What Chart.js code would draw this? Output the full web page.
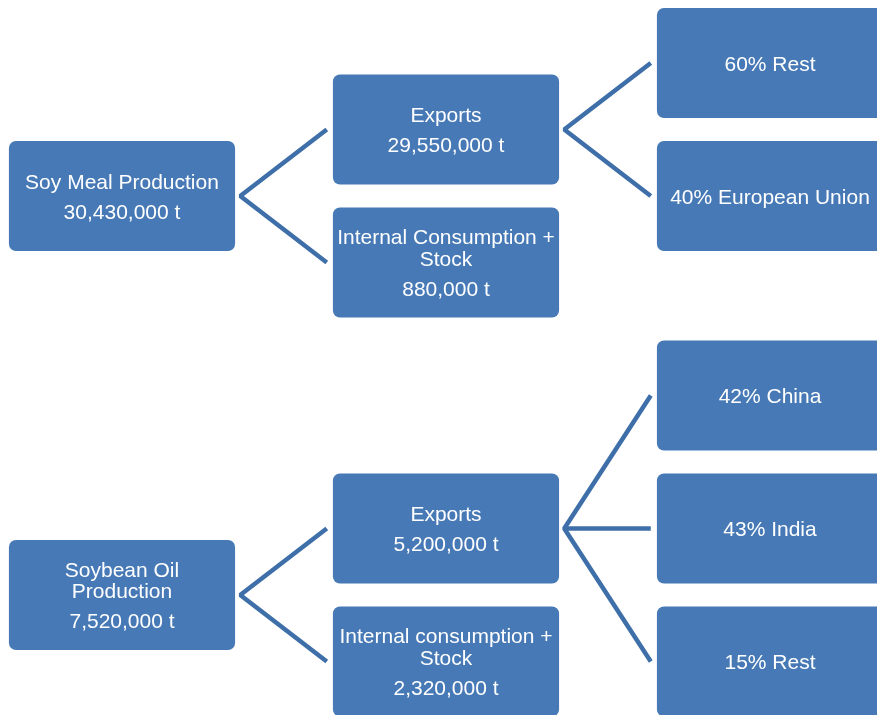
<!DOCTYPE html>
<html>
<head>
<meta charset="utf-8">
<script src="https://cdn.jsdelivr.net/npm/chart.js@4.4.1/dist/chart.umd.min.js"></script>
<style>
  html, body { margin: 0; padding: 0; background: #ffffff; }
  #wrap { width: 877px; height: 715px; position: relative; }
</style>
</head>
<body>
<div id="wrap"><canvas id="flow"></canvas></div>
<script>
// Soy product flows (tonnes) and export destination shares (%)
const products = ['Soy Meal Production', 'Soybean Oil Production'];
const productTonnes = [30430000, 7520000];

const mealUses = ['Exports', 'Internal Consumption + Stock'];
const mealUseTonnes = [29550000, 880000];
const oilUses = ['Exports', 'Internal consumption + Stock'];
const oilUseTonnes = [5200000, 2320000];

const mealExportDestinations = ['Rest', 'European Union'];
const mealExportShares = [60, 40];
const oilExportDestinations = ['China', 'India', 'Rest'];
const oilExportShares = [42, 43, 15];

const tonnes = v => v.toLocaleString('en-US') + ' t';
const share = (p, name) => p + '% ' + name;

// Each tree: product -> [exports -> destinations, internal use]
function buildTree(i, uses, useTonnes, dests, shares) {
  return {
    name: products[i], value: tonnes(productTonnes[i]),
    children: [
      { name: uses[0], value: tonnes(useTonnes[0]),
        children: dests.map((d, k) => ({ name: share(shares[k], d), children: [] })) },
      { name: uses[1], value: tonnes(useTonnes[1]), children: [] }
    ]
  };
}
const trees = [
  buildTree(0, mealUses, mealUseTonnes, mealExportDestinations, mealExportShares),
  buildTree(1, oilUses, oilUseTonnes, oilExportDestinations, oilExportShares)
];

// Layout: x = tree depth (column), y = row slot; siblings one slot apart,
// centred on their parent; trees stacked with one empty slot between them.
function place(node, depth, slot, out) {
  node.depth = depth; node.slot = slot; out.push(node);
  const n = node.children.length;
  node.children.forEach((c, k) => place(c, depth + 1, slot + k - (n - 1) / 2, out));
}
const nodes = [];
let nextTop = 0;
trees.forEach(t => {
  const sub = [];
  place(t, 0, 0, sub);
  const top = Math.min(...sub.map(n => n.slot));
  const bottom = Math.max(...sub.map(n => n.slot));
  const shift = nextTop - top;
  sub.forEach(n => { n.slot += shift; });
  nextTop = bottom + shift + 1;
  nodes.push(...sub);
});

const BOX_HALF = 0.349;   // half box width, in columns
const GAP_OUT = 0.016;    // connector gap at the parent side
const GAP_IN = 0.019;     // connector gap at the child side

const boxData = nodes.map(n => ({ x: [n.depth - BOX_HALF, n.depth + BOX_HALF], y: n.slot }));

const LINK_COLOR = '#3e6fa9';
const linkSets = [];
nodes.forEach(n => {
  if (!n.children.length) return;
  const apex = { x: n.depth + BOX_HALF + GAP_OUT, y: n.slot };
  const ends = n.children.map(c => ({ x: c.depth - BOX_HALF - GAP_IN, y: c.slot }));
  const line = pts => ({
    type: 'scatter', data: pts, showLine: true, pointRadius: 0, pointHoverRadius: 0,
    borderColor: LINK_COLOR, borderWidth: 4.5, borderJoinStyle: 'bevel', borderCapStyle: 'butt',
    tension: 0
  });
  linkSets.push(line([ends[0], apex, ends[ends.length - 1]]));
  for (let k = 1; k < ends.length - 1; k++) linkSets.push(line([apex, ends[k]]));
});

// Node captions: wrapped name, then the tonnage on its own paragraph
const FONT = '21px "Liberation Sans", Arial, Helvetica, sans-serif';
function wrap(ctx, text, maxW) {
  const words = text.split(' ');
  const lines = [];
  let cur = '';
  words.forEach(w => {
    const t = cur ? cur + ' ' + w : w;
    if (cur && ctx.measureText(t).width > maxW) { lines.push(cur); cur = w; }
    else cur = t;
  });
  if (cur) lines.push(cur);
  return lines;
}
const captionPlugin = {
  id: 'captions',
  afterDatasetsDraw(chart) {
    const ctx = chart.ctx;
    const meta = chart.getDatasetMeta(0);
    ctx.save();
    ctx.font = FONT;
    ctx.fillStyle = '#ffffff';
    ctx.textAlign = 'center';
    ctx.textBaseline = 'alphabetic';
    meta.data.forEach((el, i) => {
      const node = nodes[i];
      const { x, y, base } = el.getProps(['x', 'y', 'base'], true);
      const cx = (x + base) / 2;
      const lines = wrap(ctx, node.name, 219);
      const LINE = 21.5, PARA = 30, CAP = 7.5;
      let total = (lines.length - 1) * LINE;
      if (node.value) total += PARA;
      const first = y - total / 2;
      lines.forEach((l, k) => ctx.fillText(l, cx, first + k * LINE + CAP));
      if (node.value) ctx.fillText(node.value, cx, first + total + CAP);
    });
    ctx.restore();
  }
};

new Chart(document.getElementById('flow'), {
  type: 'scatter',
  data: {
    datasets: [
      {
        type: 'bar',
        indexAxis: 'y',
        data: boxData,
        backgroundColor: '#4679b5',
        borderWidth: 0,
        borderSkipped: false,
        borderRadius: { topLeft: 7, topRight: 7, bottomLeft: 7, bottomRight: 7 },
        barThickness: 110,
        inflateAmount: 0
      },
      ...linkSets
    ]
  },
  options: {
    responsive: true,
    maintainAspectRatio: false,
    animation: false,
    layout: { padding: 0 },
    plugins: { legend: { display: false }, tooltip: { enabled: false } },
    events: [],
    scales: {
      x: { type: 'linear', display: false, offset: false, min: -122 / 324, max: (877 - 122) / 324 },
      y: { type: 'linear', display: false, offset: false, reverse: true, min: -63 / 133, max: (715 - 63) / 133 }
    }
  },
  plugins: [captionPlugin]
});
</script>
</body>
</html>
